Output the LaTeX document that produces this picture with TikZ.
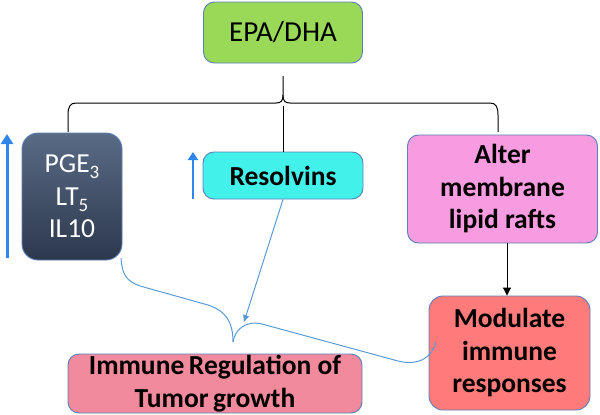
\documentclass[tikz,border=0pt]{standalone}
\usepackage{fontspec}
\setmainfont{Carlito}
\usetikzlibrary{arrows.meta}
\definecolor{boxline}{HTML}{5B7FB8}
\definecolor{epagreen}{HTML}{99D957}
\definecolor{darktop}{HTML}{5A6B86}
\definecolor{darkbot}{HTML}{2C384C}
\definecolor{rescyan}{HTML}{42F2EA}
\definecolor{alterpink}{HTML}{F79CE0}
\definecolor{modred}{HTML}{FF7B7B}
\definecolor{immpink}{HTML}{F18A9C}
\definecolor{upblue}{HTML}{2F87EE}
\definecolor{thinblue}{HTML}{5B9BD5}
\newcommand{\mysub}[1]{\raisebox{-0.22em}{\fontsize{19}{19}\selectfont #1}}
\tikzset{
  box/.style={draw=boxline, line width=0.9pt, rounded corners=11pt, align=center,
    inner sep=0pt, font=\fontsize{27.5}{32.5}\selectfont\bfseries},
  upar/.style={draw=upblue, line width=3pt, -{Triangle[length=10pt,width=12pt]}},
  smallup/.style={draw=upblue, line width=2.6pt, -{Triangle[length=8pt,width=10pt]}},
  thinconn/.style={draw=thinblue, line width=1pt},
  blackline/.style={draw=black, line width=1pt},
}
\begin{document}
\begin{tikzpicture}[x=1pt,y=-1pt]
\useasboundingbox (0,0) rectangle (600,415);
% boxes
\node[box, fill=epagreen, minimum width=159pt, minimum height=61pt,
      font=\fontsize{29}{32}\selectfont] (epa) at (283,32.5) {EPA/DHA};
\node[box, top color=darktop, bottom color=darkbot, rounded corners=16pt,
      minimum width=100pt, minimum height=127pt, text=white,
      font=\fontsize{27.5}{32.5}\selectfont] (dark) at (72,196.5)
      {PGE\mysub{3}\\LT\mysub{5}\\IL10};
\node[box, fill=rescyan, minimum width=160pt, minimum height=47pt] (res) at (283,175.5) {Resolvins};
\node[box, fill=alterpink, minimum width=190pt, minimum height=108pt] (alter) at (502.5,189)
      {Alter\\membrane\\lipid rafts};
\node[box, fill=modred, minimum width=161pt, minimum height=114pt, rounded corners=14pt] (mod) at (509.5,353)
      {Modulate\\immune\\responses};
\node[box, fill=immpink, minimum width=294pt, minimum height=59pt] (imm) at (215,383.5)
      {Immune\,Regulation of\\Tumor\,growth};
% black brace
\coordinate (bt) at (283,76);
\coordinate (bl) at (68,132);
\coordinate (br) at (498,132);
\coordinate (bm) at (283,106);
\draw[blackline] (bt) -- (283,95) .. controls (283,101) and (281,103) .. (276,103)
  -- (76,103) .. controls (70,103) and (68,107) .. (68,115) -- (bl);
\draw[blackline] (283,95) .. controls (283,101) and (285,103) .. (290,103)
  -- (490,103) .. controls (496,103) and (498,107) .. (498,115) -- (br);
\draw[blackline] (bm) -- (res.north);
% black arrow
\draw[blackline, -{Triangle[length=8pt,width=8pt]}] (alter.south -| 507,0) -- (mod.north -| 507,0);
% blue up arrows
\coordinate (a1s) at (7,258);
\coordinate (a1e) at (7,134);
\coordinate (a2s) at (193,199);
\coordinate (a2e) at (193,152);
\draw[upar] (a1s) -- (a1e);
\draw[smallup] (a2s) -- (a2e);
% blue brace
\coordinate (tip) at (233,342);
\coordinate (dstart) at (121,258);
\coordinate (mend) at (436,342);
\draw[thinconn] (dstart) .. controls (122,274) and (126,281) .. (140,286)
  -- (208,305) .. controls (226,311) and (233,322) .. (tip);
\draw[thinconn] (tip) .. controls (235,330) and (245,320) .. (262,324)
  -- (398,361) .. controls (418,366) and (432,358) .. (mend);
% resolvins arrow
\coordinate (atip) at (244,322);
\draw[thinconn, -{Triangle[length=7pt,width=6pt]}] (res.south) -- (atip);
\end{tikzpicture}
\end{document}
